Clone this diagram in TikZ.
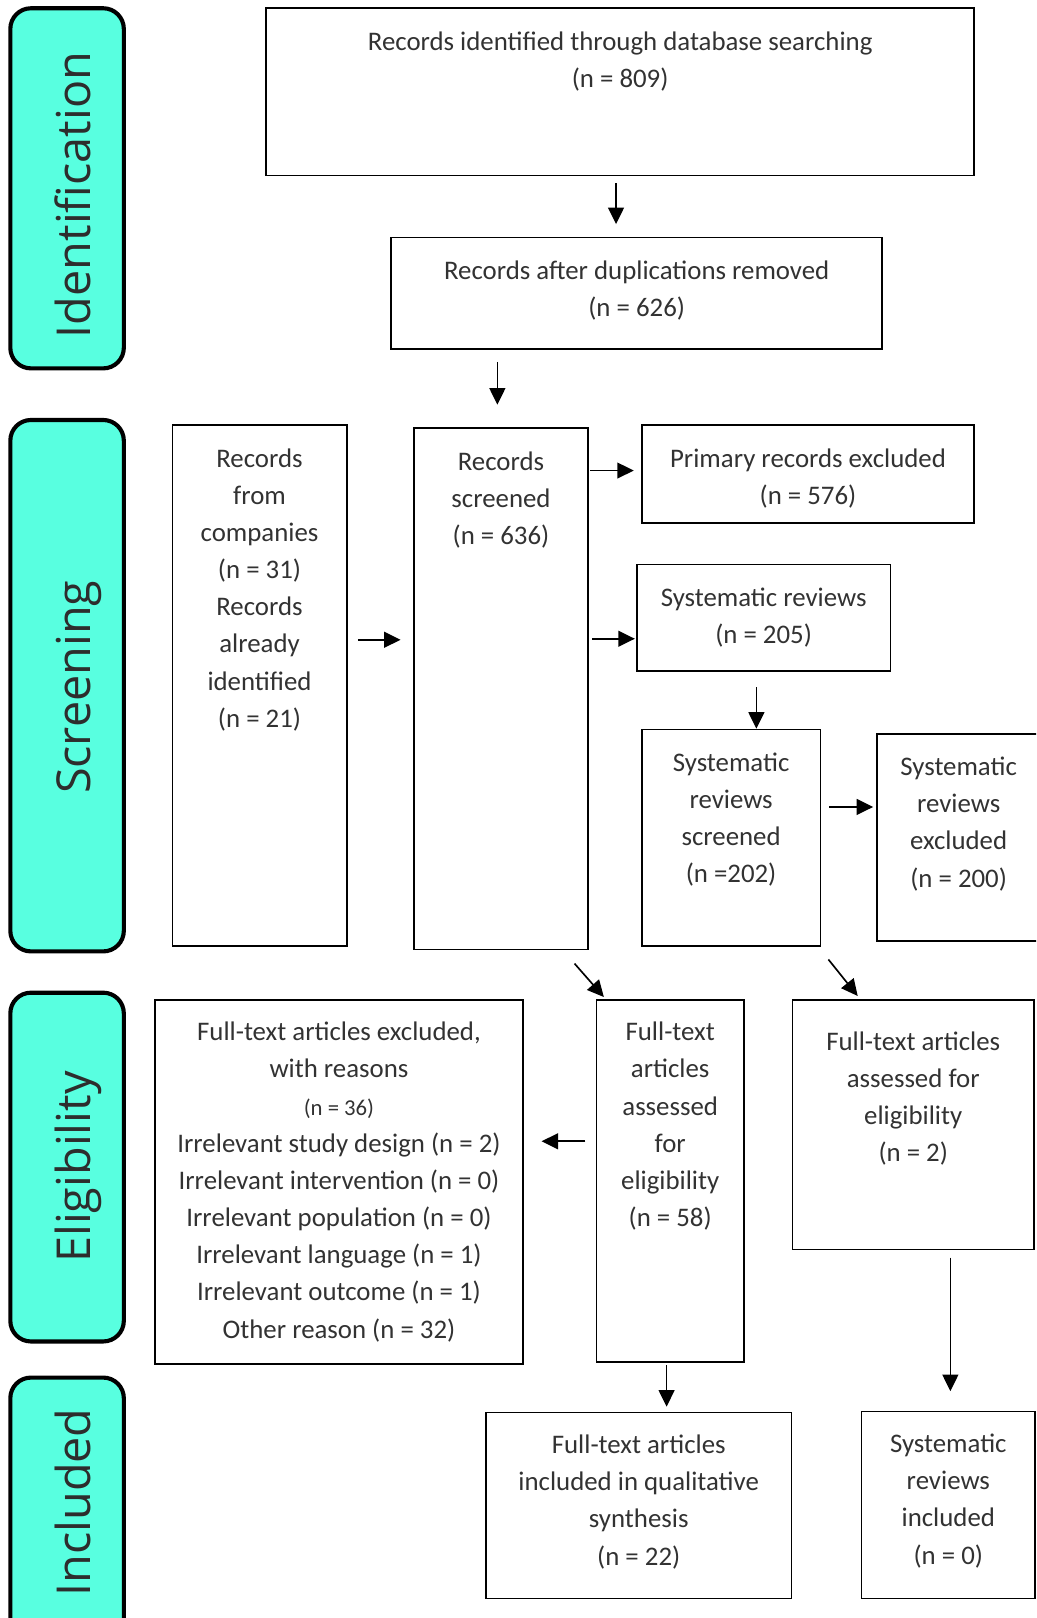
\documentclass[tikz,border=0pt]{standalone}
\usepackage{fontspec}
\setmainfont{Carlito}
\newfontfamily\sidefont{Open Sans}
\usetikzlibrary{fit,calc,arrows.meta}
\definecolor{badgefill}{RGB}{88,255,224}
\definecolor{inktext}{RGB}{50,50,50}
\definecolor{sidetext}{RGB}{45,45,45}
\begin{document}
\begin{tikzpicture}[x=0.75pt,y=-0.75pt,
  box/.style={draw=black, line width=1.2pt, inner sep=0pt, rectangle},
  badge/.style={draw=black, fill=badgefill, line width=3pt, rounded corners=15pt, inner sep=0pt},
  txt/.style={anchor=north, inner sep=0pt, align=center, text=inktext, font=\fontsize{19.5}{27}\selectfont},
  side/.style={anchor=base, inner sep=0pt, rotate=90, text=sidetext, font=\sidefont\fontsize{34}{40}\selectfont},
  arr/.style={line width=1.2pt, -{Triangle[length=12pt,width=11.5pt]}},
]
\clip (0,0) rectangle (1004,1568);

% stage badges on the left
\node[badge, fit={(10,8) (120,357)}] (bid) {};
\node[badge, fit={(10,407) (120,922)}] (bsc) {};
\node[badge, fit={(10,962) (120,1300)}] (bel) {};
\node[badge, fit={(10,1335) (120,1600)}] (bin) {};
\node[side] (lid) at (87.5,189) {Identification};
\node[side] (lsc) at (87.5,666) {Screening};
\node[side] (lel) at (87.5,1131) {Eligibility};
\node[side] (lin) at (87.5,1456) {Included};

% flow boxes
\node[box, fit={(258,8) (944,170)}] (b1) {};
\node[box, fit={(379,230) (855,338)}] (b2) {};
\node[box, fit={(167,412) (336,917)}] (b3) {};
\node[box, fit={(401,415) (570,920)}] (b4) {};
\node[box, fit={(622,412) (944,507)}] (b5) {};
\node[box, fit={(617,547) (863,650)}] (b6) {};
\node[box, fit={(622,707) (795,917)}] (b7) {};
\node[box, fit={(850,711) (1008,912)}] (b8) {};
\node[box, fit={(578,969) (721,1320)}] (b9) {};
\node[box, fit={(768,969) (1002,1211)}] (b10) {};
\node[box, fit={(150,969) (507,1322)}] (b11) {};
\node[box, fit={(471,1369) (767,1549)}] (b12) {};
\node[box, fit={(835,1368) (1003,1549)}] (b13) {};

% box texts
\node[txt] (t1) at (601,23.2) {\strut Records identified through database searching\\(n = 809)};
\node[txt] (t2) at (617,245.2) {\strut Records after duplications removed\\(n = 626)};
\node[txt] (t3) at (251.5,427.2) {\strut Records\\from\\companies\\(n = 31)\\Records\\already\\identified\\(n = 21)};
\node[txt] (t4) at (485.5,430.2) {\strut Records\\screened\\(n = 636)};
\node[txt] (t5) at (783,427.2) {\strut Primary records excluded\\(n = 576)};
\node[txt] (t6) at (740,562.2) {\strut Systematic reviews\\(n = 205)};
\node[txt] (t7) at (708.5,722.2) {\strut Systematic\\reviews\\screened\\(n =202)};
\node[txt] (t8) at (929,726.2) {\strut Systematic\\reviews\\excluded\\(n = 200)};
\node[txt] (t9) at (649.5,983.2) {\strut Full-text\\articles\\assessed\\for\\eligibility\\(n = 58)};
\node[txt] (t10) at (885,992.2) {\strut Full-text articles\\assessed for\\eligibility\\(n = 2)};
\node[txt] (t11) at (328.5,983.2) {\strut Full-text articles excluded,\\with reasons\\{\fontsize{16.5}{27}\selectfont (n = 36)}\\Irrelevant study design (n = 2)\\Irrelevant intervention (n = 0)\\Irrelevant population (n = 0)\\Irrelevant language (n = 1)\\Irrelevant outcome (n = 1)\\Other reason (n = 32)};
\node[txt] (t12) at (619,1383.2) {\strut Full-text articles\\included in qualitative\\synthesis\\(n = 22)};
\node[txt] (t13) at (919,1382.2) {\strut Systematic\\reviews\\included\\(n = 0)};

% connectors
\draw[arr, shorten <=5.25pt, shorten >=9pt] (597,0 |- b1.south) -- (597,0 |- b2.north);
\draw[arr, shorten <=9pt, shorten >=16.5pt] (482,0 |- b2.south) -- (482,0 |- b4.north);
\draw[arr, shorten <=7.5pt, shorten >=9pt] (b3.east |- 0,620) -- (b4.west |- 0,620);
\draw[arr, shorten <=0.75pt, shorten >=5.25pt] (b4.east |- 0,456) -- (b5.west |- 0,456);
\draw[arr, shorten <=2.25pt, shorten >=0.75pt] (b4.east |- 0,619) -- (b6.west |- 0,619);
\draw[arr, shorten <=11.25pt] (733,0 |- b6.south) -- (733,0 |- b7.north);
\draw[arr, shorten <=6pt, shorten >=2.25pt] (b7.east |- 0,782) -- (b8.west |- 0,782);
\draw[arr] ($(b4.south east)+(-14,13)$) -- ($(b9.north west)+(8,-2)$);
\draw[arr] ($(b7.south east)+(7,12)$) -- ($(b10.north west)+(64,-3)$);
\draw[arr, shorten <=7.5pt, shorten >=12.75pt] (b9.west |- 0,1106) -- (b11.east |- 0,1106);
\draw[arr, shorten <=1.5pt, shorten >=3.75pt] (646,0 |- b9.south) -- (646,0 |- b12.north);
\draw[arr, shorten <=5.25pt, shorten >=14.25pt] (921,0 |- b10.south) -- (921,0 |- b13.north);
\end{tikzpicture}
\end{document}
